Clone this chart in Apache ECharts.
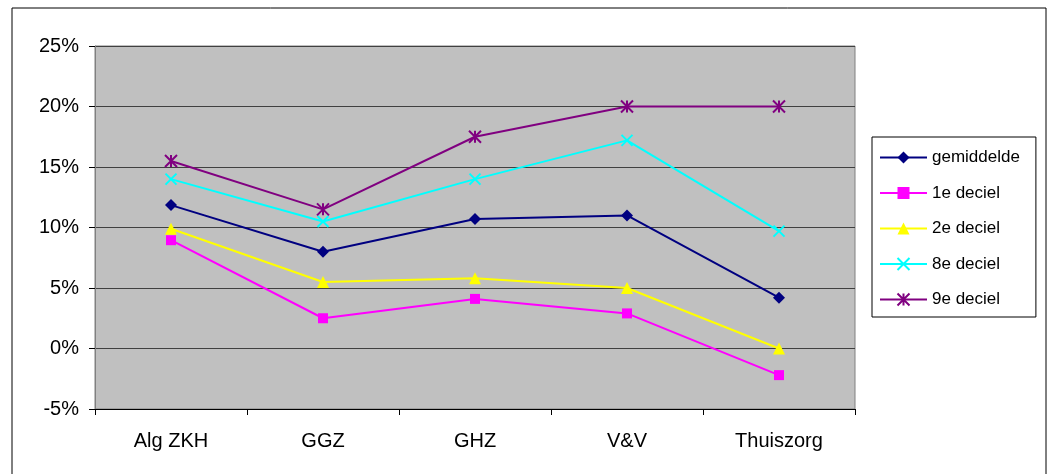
<!DOCTYPE html>
<html>
<head>
<meta charset="utf-8">
<script src="https://cdn.jsdelivr.net/npm/echarts@6/dist/echarts.min.js"></script>
<style>
  html, body { margin: 0; padding: 0; background: #fff; }
  #chart { width: 1054px; height: 474px; }
</style>
</head>
<body>
<div id="chart"></div>
<script>
// Categories and series values (percent)
var categories = ['Alg ZKH', 'GGZ', 'GHZ', 'V&V', 'Thuiszorg'];
var gemiddelde = [11.85, 8.0, 10.7, 11.0, 4.2];
var deciel1 = [8.95, 2.5, 4.1, 2.9, -2.2];
var deciel2 = [9.9, 5.5, 5.8, 5.0, 0.0];
var deciel8 = [14.0, 10.5, 14.0, 17.2, 9.7];
var deciel9 = [15.5, 11.5, 17.5, 20.0, 20.0];

document.addEventListener('DOMContentLoaded', function() {
  var chart = echarts.init(document.getElementById('chart'), null, {renderer: 'canvas'});
  var font = '"Liberation Sans", Arial, sans-serif';

  var crossPath = 'path://M0,0L10,10M10,0L0,10';
  var starPath = 'path://M5,0L5,10M0,0L10,10M10,0L0,10';

  function line(name, data, color, symbol, size, stroke) {
    return {
      name: name,
      type: 'line',
      data: data,
      symbol: symbol,
      symbolSize: size,
      showSymbol: true,
      lineStyle: { color: color, width: 2 },
      itemStyle: {
        color: color,
        borderColor: color,
        borderWidth: stroke ? 2 : 0
      },
      z: 3
    };
  }

  var option = {
    animation: false,
    backgroundColor: '#fff',
    textStyle: { fontFamily: font },
    graphic: [{
      type: 'rect',
      shape: { x: 12, y: 8, width: 1034, height: 480 },
      style: { fill: 'none', stroke: '#000', lineWidth: 1 },
      silent: true
    }],
    grid: {
      left: 95, right: 199, top: 46, bottom: 65,
      show: true,
      backgroundColor: '#C0C0C0',
      borderColor: '#808080',
      borderWidth: 1
    },
    legend: {
      orient: 'vertical',
      left: 872, top: 137,
      padding: [12, 16, 9, 7],
      borderColor: '#000',
      borderWidth: 1,
      itemWidth: 47,
      itemHeight: 15,
      itemGap: 18.5,
      textStyle: { fontSize: 17, color: '#000', fontFamily: font },
      data: ['gemiddelde', '1e deciel', '2e deciel', '8e deciel', '9e deciel']
    },
    xAxis: {
      type: 'category',
      data: categories,
      boundaryGap: true,
      axisLine: { show: true, onZero: false, lineStyle: { color: '#000', width: 1 } },
      axisTick: { show: true, length: 6, lineStyle: { color: '#000' } },
      axisLabel: { fontSize: 20, color: '#000', margin: 22, fontFamily: font }
    },
    yAxis: {
      type: 'value',
      min: -5, max: 25, interval: 5,
      axisLine: { show: true, lineStyle: { color: '#808080', width: 1 } },
      axisTick: { show: true, length: 6, lineStyle: { color: '#000' } },
      axisLabel: { fontSize: 20, color: '#000', margin: 16, formatter: '{value}%', fontFamily: font },
      splitLine: { show: true, lineStyle: { color: '#404040', width: 1 } }
    },
    series: [
      line('gemiddelde', gemiddelde, '#000080', 'diamond', 12, false),
      line('1e deciel', deciel1, '#FF00FF', 'rect', 10, false),
      line('2e deciel', deciel2, '#FFFF00', 'triangle', 12, false),
      line('8e deciel', deciel8, '#00FFFF', crossPath, 11, true),
      line('9e deciel', deciel9, '#800080', starPath, 12, true)
    ]
  };

  chart.setOption(option);
});
</script>
</body>
</html>
